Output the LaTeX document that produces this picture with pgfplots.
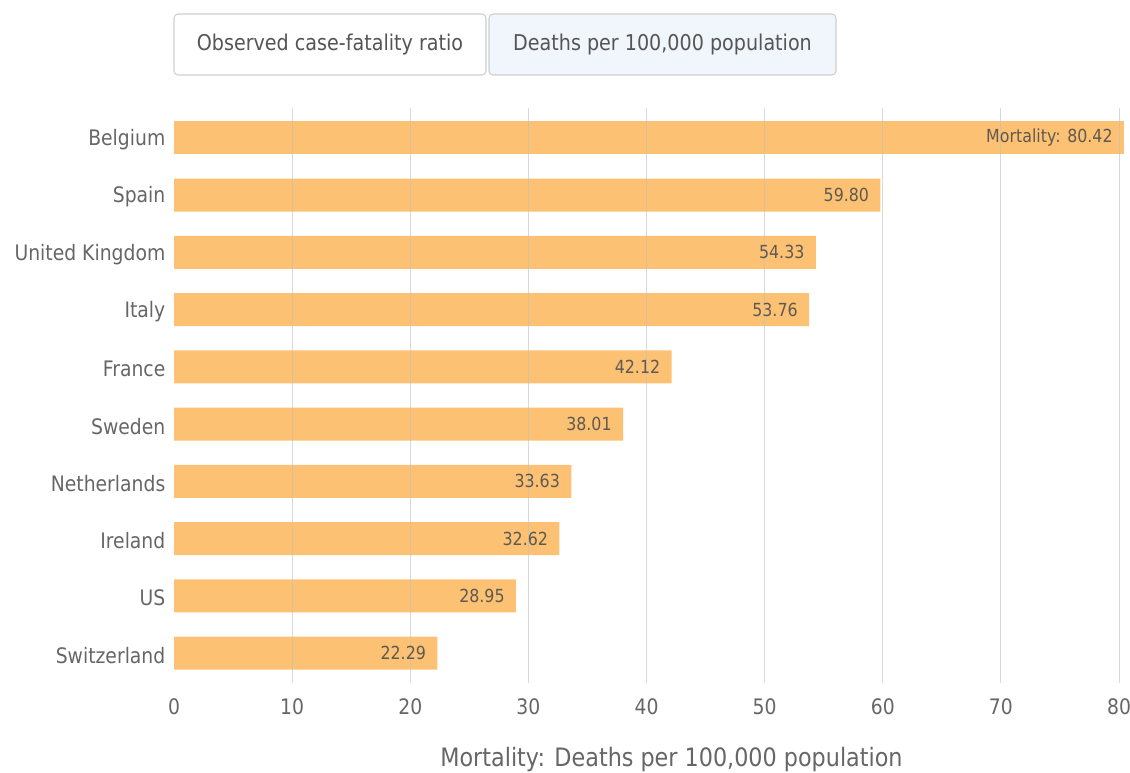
\documentclass[border=0pt]{standalone}
\usepackage{pgfplots}
\pgfplotsset{compat=1.18}
\usepackage{fontspec}
\setmainfont{DejaVu Sans}[FakeStretch=0.88]

\definecolor{barfill}{HTML}{FDC173}
\definecolor{ticktext}{HTML}{666666}
\definecolor{valtext}{HTML}{5E5A52}
\definecolor{gridgray}{HTML}{BFBFBF}
\definecolor{btnborder}{HTML}{CFCFCF}
\definecolor{btnactive}{HTML}{F1F6FC}
\definecolor{btntext}{HTML}{555555}

% Deaths per 100,000 population, bottom to top
\pgfplotstableread{
idx value
0 22.29
1 28.95
2 32.62
3 33.63
4 38.01
5 42.12
6 53.76
7 54.33
8 59.80
}\restdata
\pgfplotstableread{
idx value
9 80.42
}\topdata

\begin{document}
\begin{tikzpicture}
% page frame
\useasboundingbox (0,0) rectangle (847.5pt,579pt);

% metric selector buttons
\draw[btnborder, fill=white, rounded corners=3pt, line width=0.8pt]
  (130.5pt,522.75pt) rectangle (364.5pt,568.5pt);
\draw[btnborder, fill=btnactive, rounded corners=3pt, line width=0.8pt]
  (366.75pt,522.75pt) rectangle (627pt,568.5pt);
\node[text=btntext, font=\fontsize{16.3}{19}\selectfont] at (247.5pt,545.6pt)
  {Observed case-fatality ratio};
\node[text=btntext, font=\fontsize{16.3}{19}\selectfont] at (496.9pt,545.6pt)
  {Deaths per 100,000 population};

\begin{axis}[
  at={(130.5pt,66.75pt)}, anchor=south west,
  scale only axis,
  width=712.5pt, height=431.25pt,
  xmin=0, xmax=80.42,
  ymin=-0.52, ymax=9.52,
  xbar, bar shift=0pt, bar width=24.75pt,
  axis line style={draw=none},
  major tick length=0pt,
  xtick={0,10,...,80},
  ytick={0,...,9},
  yticklabels={Switzerland,US,Ireland,Netherlands,Sweden,France,Italy,United Kingdom,Spain,Belgium},
  extra x ticks={10,20,...,80},
  extra x tick labels={},
  extra x tick style={grid=major},
  major grid style={gridgray, opacity=0.6, line width=0.8pt},
  axis on top,
  /pgf/number format/assume math mode=true,
  tick label style={text=ticktext, font=\fontsize{16}{19}\selectfont},
  xticklabel style={yshift=-8.5pt},
  yticklabel style={xshift=-3pt, yshift=-1.5pt},
  point meta=x,
  nodes near coords,
  every node near coord/.append style={anchor=east, xshift=-5pt,
    text=valtext, font=\fontsize{13.5}{16}\selectfont},
]
\addplot[fill=barfill, draw=none,
  nodes near coords={\pgfmathprintnumber[fixed,fixed zerofill,precision=2]{\pgfplotspointmeta}}]
  table[x=value, y=idx] {\restdata};
\addplot[fill=barfill, draw=none,
  nodes near coords={Mortality: \pgfmathprintnumber[fixed,fixed zerofill,precision=2]{\pgfplotspointmeta}}]
  table[x=value, y=idx] {\topdata};
\end{axis}

\node[text=ticktext, font=\fontsize{19}{22}\selectfont] at (503.6pt,9pt)
  {Mortality: Deaths per 100,000 population};
\end{tikzpicture}
\end{document}
